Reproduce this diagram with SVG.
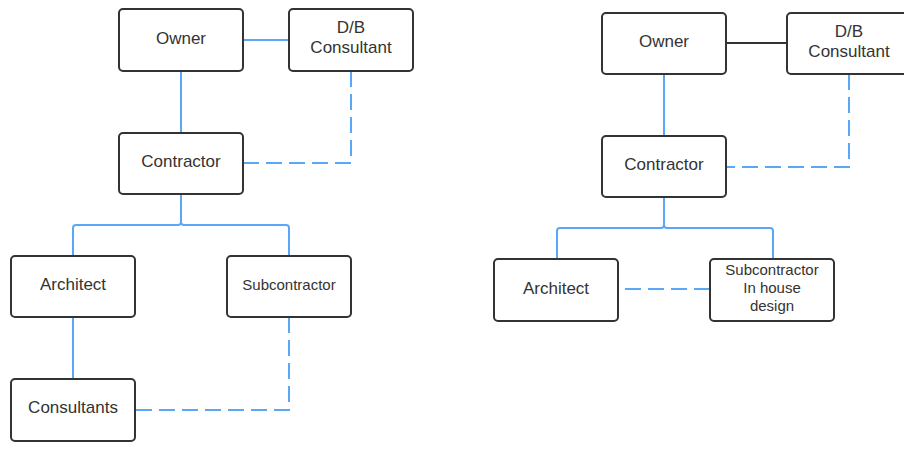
<svg xmlns="http://www.w3.org/2000/svg" width="904" height="457" viewBox="0 0 904 457">
<style>
.box{fill:#fff;stroke:#333;stroke-width:2}
.t{font-family:"Liberation Sans",Arial,sans-serif;font-size:17px;fill:#333;text-anchor:middle}
.s{font-size:15px}
.ln{fill:none;stroke:#5aa8f5;stroke-width:2}
.dash{stroke-dasharray:16 7}
.blk{fill:none;stroke:#333;stroke-width:2}
</style>
<rect width="904" height="457" fill="#fff"/>
<g id="connectors">
<!-- left -->
<path class="ln" d="M243 40H289"/>
<path class="ln" d="M181 71V133"/>
<path class="ln dash" d="M351 71V163H243"/>
<path class="ln" d="M181 194V222Q181 225 178 225H76Q73 225 73 228V256"/>
<path class="ln" d="M181 222Q181 225 184 225H286Q289 225 289 228V256"/>
<path class="ln" d="M73 317V379"/>
<path class="ln dash" d="M289 317V410H135"/>
<!-- right -->
<path class="blk" d="M726 43H787"/>
<path class="ln" d="M664 74V136"/>
<path class="ln dash" d="M849 74V167H726"/>
<path class="ln" d="M664 197V225Q664 228 661 228H560Q557 228 557 231V259"/>
<path class="ln" d="M664 225Q664 228 667 228H770Q773 228 773 231V259"/>
<path class="ln dash" d="M625 289H710"/>
</g>
<g id="owner-l"><rect class="box" x="119" y="9" width="124" height="62" rx="4"/><text class="t" x="181" y="44">Owner</text></g>
<g id="db-l"><rect class="box" x="289" y="9" width="124" height="62" rx="4"/><text class="t" x="351" y="33">D/B</text><text class="t" x="351" y="53">Consultant</text></g>
<g id="contractor-l"><rect class="box" x="119" y="133" width="124" height="61" rx="4"/><text class="t" x="181" y="167">Contractor</text></g>
<g id="architect-l"><rect class="box" x="11" y="256" width="124" height="61" rx="4"/><text class="t" x="73" y="290">Architect</text></g>
<g id="sub-l"><rect class="box" x="227" y="256" width="124" height="61" rx="4"/><text class="t s" x="289" y="290">Subcontractor</text></g>
<g id="consultants-l"><rect class="box" x="11" y="379" width="124" height="62" rx="4"/><text class="t" x="73" y="413">Consultants</text></g>
<g id="owner-r"><rect class="box" x="602" y="13" width="124" height="61" rx="4"/><text class="t" x="664" y="47">Owner</text></g>
<g id="db-r"><rect class="box" x="787" y="13" width="124" height="61" rx="4"/><text class="t" x="849" y="37">D/B</text><text class="t" x="849" y="57">Consultant</text></g>
<g id="contractor-r"><rect class="box" x="602" y="136" width="124" height="61" rx="4"/><text class="t" x="664" y="170">Contractor</text></g>
<g id="architect-r"><rect class="box" x="494" y="259" width="124" height="62" rx="4"/><text class="t" x="556" y="294">Architect</text></g>
<g id="sub-r"><rect class="box" x="710" y="259" width="124" height="62" rx="4"/><text class="t s" x="772" y="275">Subcontractor</text><text class="t s" x="772" y="293">In house</text><text class="t s" x="772" y="311">design</text></g>
</svg>
